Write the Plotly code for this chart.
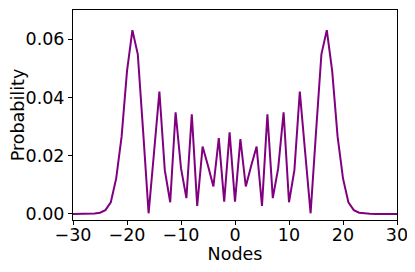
import plotly.graph_objects as go

nodes = list(range(-30, 31))
probability = [
    0.0, 0.0, 0.0, 0.00002, 0.0001, 0.0004, 0.0013, 0.0040, 0.0122, 0.0265,
    0.0490, 0.0631, 0.0548, 0.0280, 0.0002, 0.0210, 0.0420, 0.0150, 0.0040, 0.0349,
    0.0157, 0.0054, 0.0342, 0.0027, 0.0231, 0.0165, 0.0094, 0.0260, 0.0042, 0.0280,
    0.0042, 0.0257, 0.0094, 0.0165, 0.0231, 0.0027, 0.0342, 0.0054, 0.0157, 0.0349,
    0.0040, 0.0150, 0.0420, 0.0210, 0.0002, 0.0280, 0.0548, 0.0631, 0.0490, 0.0265,
    0.0122, 0.0040, 0.0013, 0.0004, 0.0001, 0.00002, 0.0, 0.0, 0.0, 0.0, 0.0,
]
x_ticks = [-30, -20, -10, 0, 10, 20, 30]
x_ticktext = ["\u221230", "\u221220", "\u221210", "0", "10", "20", "30"]
y_ticks = [0.0, 0.02, 0.04, 0.06]
y_ticktext = ["0.00", "0.02", "0.04", "0.06"]

fig = go.Figure(go.Scatter(x=nodes, y=probability, mode="lines",
                           line=dict(color="#800080", width=2)))

font = dict(family="DejaVu Sans", size=17.5, color="black")
# page body has an 8px default margin, so the figure is offset by 8px
fig.update_layout(
    width=399, height=256,
    margin=dict(l=65, r=10, t=2, b=44, autoexpand=False),
    paper_bgcolor="white", plot_bgcolor="white",
    showlegend=False, font=font,
)
fig.update_xaxes(range=[-30, 30], tickvals=x_ticks, ticktext=x_ticktext,
                 ticks="outside", ticklen=4, tickwidth=1, tickcolor="black",
                 ticklabeloverflow="allow", ticklabelstandoff=-5,
                 showline=True, linecolor="black", linewidth=1, mirror=True,
                 showgrid=False, zeroline=False, automargin=False,
                 title=dict(text="Nodes", font=font, standoff=0))
fig.update_yaxes(range=[-0.0021, 0.070], tickvals=y_ticks, ticktext=y_ticktext,
                 ticks="outside", ticklen=4, tickwidth=1, tickcolor="black",
                 showline=True, linecolor="black", linewidth=1, mirror=True,
                 showgrid=False, zeroline=False, automargin=False,
                 title=dict(text="Probability", font=font, standoff=7))
fig.write_html("out.html")
